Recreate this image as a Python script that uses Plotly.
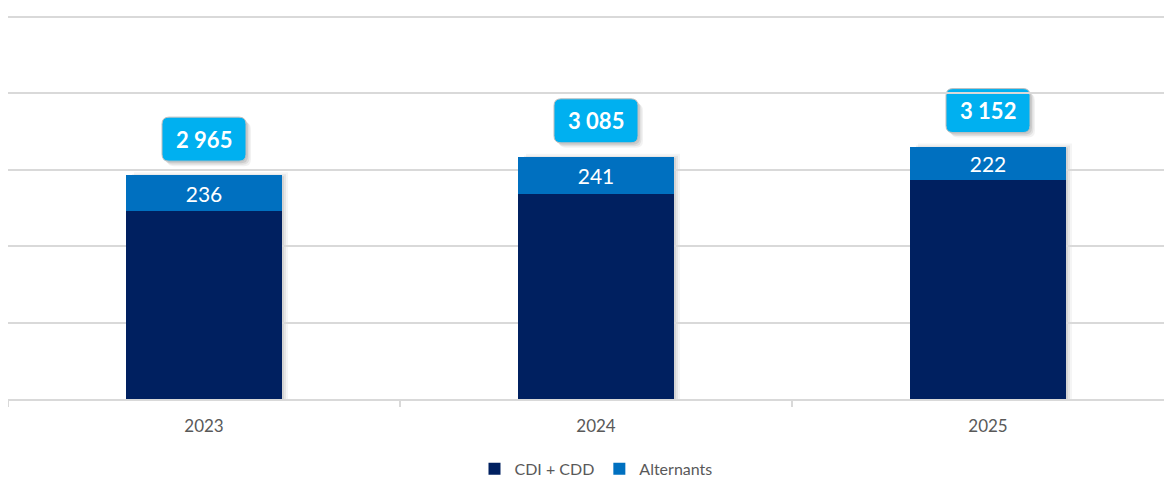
import plotly.graph_objects as go

years = ["2023", "2024", "2025"]
totals = [2965, 3085, 3152]
alternants = [236, 241, 222]
cdi_cdd = [t - a for t, a in zip(totals, alternants)]

NAVY = "#002060"
BLUE = "#0070C0"
CYAN = "#00B0F0"
GRID = "#D9D9D9"
TXT = "#595959"
FONT = "Lato"

fig = go.Figure()
fig.add_trace(go.Bar(x=years, y=cdi_cdd, name="CDI + CDD", marker=dict(color=NAVY, line=dict(width=0)),
                     width=0.4, hoverinfo="skip"))
fig.add_trace(go.Bar(x=years, y=alternants, name="Alternants", marker=dict(color=BLUE, line=dict(width=0)),
                     width=0.4, text=[str(a) for a in alternants], textposition="inside",
                     insidetextanchor="middle", textfont=dict(color="white", size=21, family=FONT),
                     hoverinfo="skip"))

def rrect(x0, y0, x1, y1, r):
    return (f"M{x0+r},{y0} L{x1-r},{y0} Q{x1},{y0} {x1},{y0+r} L{x1},{y1-r} Q{x1},{y1} {x1-r},{y1} "
            f"L{x0+r},{y1} Q{x0},{y1} {x0},{y1-r} L{x0},{y0+r} Q{x0},{y0} {x0+r},{y0} Z")

GAP, BH, BW = 14, 44, 84
shapes = []
for i, tot in enumerate(totals):
    # bar shadow
    for k, a in [(6, 0.04), (4, 0.06), (2, 0.08)]:
        shapes.append(dict(type="path", xref="x", yref="y", xsizemode="pixel", ysizemode="pixel",
                           xanchor=i, yanchor=tot, layer="below",
                           path=f"M{-76+k},{k-3} L{78+k},{k-3} L{78+k},{-420} L{-76+k},{-420} Z",
                           fillcolor=f"rgba(0,0,0,{a})", line=dict(width=0)))
    # label box shadow
    for k, a in [(5, 0.05), (3.5, 0.07), (2, 0.09)]:
        shapes.append(dict(type="path", xref="x", yref="y", xsizemode="pixel", ysizemode="pixel",
                           xanchor=i, yanchor=tot, layer="below",
                           path=rrect(-BW / 2 + k, GAP - k, BW / 2 + k, GAP + BH - k, 7),
                           fillcolor=f"rgba(0,0,0,{a})", line=dict(width=0)))
    shapes.append(dict(type="path", xref="x", yref="y", xsizemode="pixel", ysizemode="pixel",
                       xanchor=i, yanchor=tot, layer="below",
                       path=rrect(-BW / 2, GAP, BW / 2, GAP + BH, 7),
                       fillcolor=CYAN, line=dict(color="#BFBFBF", width=1)))

annotations = [dict(x=i, y=tot, xref="x", yref="y", text=f"<b>{tot:,}</b>".replace(",", " "),
                    showarrow=False, yshift=GAP + BH / 2, yanchor="middle", xanchor="center",
                    font=dict(color="white", size=22, family=FONT))
               for i, tot in enumerate(totals)]

fig.update_layout(
    barmode="stack",
    width=1176, height=477,
    margin=dict(l=0, r=0, t=7, b=86),
    paper_bgcolor="white", plot_bgcolor="white",
    font=dict(family=FONT, color=TXT, size=16),
    shapes=shapes, annotations=annotations,
    legend=dict(orientation="h", x=0.5, xanchor="center", yref="container", y=0.034,
                yanchor="middle", font=dict(size=16, color=TXT, family=FONT), traceorder="normal",
                itemwidth=30),
    xaxis=dict(type="category", range=[-0.5, 2.5], autorange=False, showline=True, linecolor=GRID,
               linewidth=1.5, ticks="outside", automargin=False,
               tickson="boundaries", tickcolor=GRID, ticklen=6, tickwidth=1.5, showgrid=False,
               tickfont=dict(size=17, color=TXT, family=FONT), tickangle=0, ticklabelstandoff=11),
    yaxis=dict(range=[1500, 4013], autorange=False, tickvals=[2000, 2500, 3000, 3500, 4000],
               showticklabels=False, showgrid=True, automargin=False,
               gridcolor=GRID, gridwidth=1.5, zeroline=False, fixedrange=True),
    bargap=0.6,
    showlegend=True,
)
fig.write_html("out.html")
